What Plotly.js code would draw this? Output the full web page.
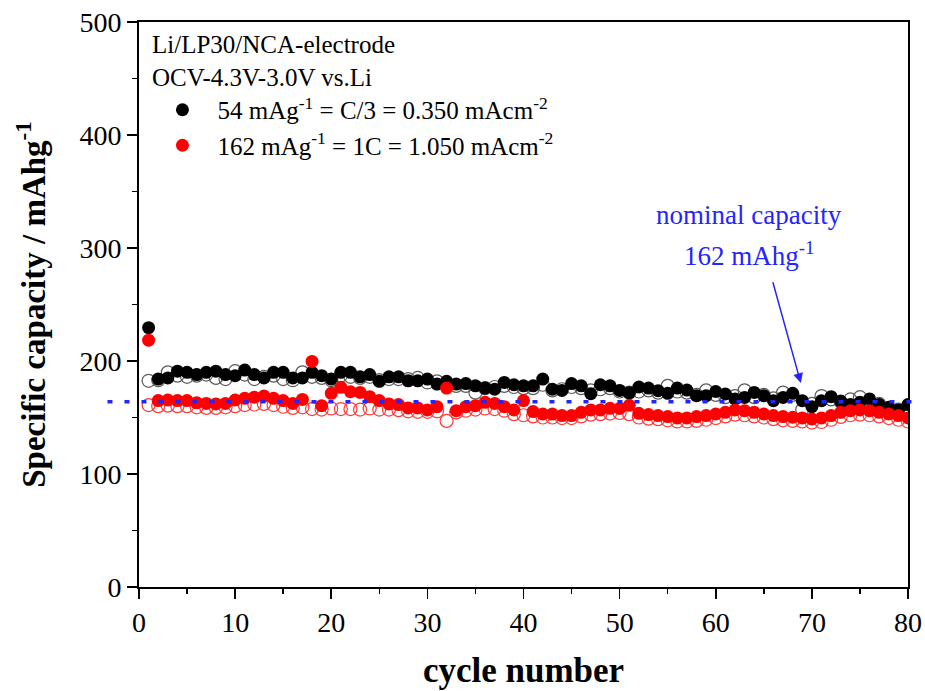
<!DOCTYPE html>
<html>
<head>
<meta charset="utf-8">
<script src="https://cdn.plot.ly/plotly-3.0.1.min.js"></script>
<style>html,body{margin:0;padding:0;background:#fff;}#chart{width:925px;height:691px;}</style>
</head>
<body>
<div id="chart"></div>
<script>
// cycle numbers 1..80
const cycles = [1,2,3,4,5,6,7,8,9,10,11,12,13,14,15,16,17,18,19,20,21,22,23,24,25,26,27,28,29,30,31,32,33,34,35,36,37,38,39,40,41,42,43,44,45,46,47,48,49,50,51,52,53,54,55,56,57,58,59,60,61,62,63,64,65,66,67,68,69,70,71,72,73,74,75,76,77,78,79,80];

// 54 mAg-1 (C/3) - filled
const blackFilled = [229.5,184,185,191,190,188,190,191,188,187,
  192,188,185,190,190,185,185,190,187,184,
  190,190,186,188,182,186,186,182.5,182.5,184,
  179.6,182,179.6,180,178,176,175,181,179,178,
  178,184,175,174,180,178,171,179,178,174,
  172,177,176,173.7,171.4,176,174.3,169.3,169.3,173,
  170.8,166.4,167.8,172.2,169.3,164.9,167.8,171.4,164.9,159.6,
  164.9,168.4,164.3,161.4,163.4,166.4,161.4,159,156.7,161.4];

// 54 mAg-1 (C/3) - open
const blackOpen = [182.5,183,190,187,186,187,188,185,184,191,
  188,184,186,187,184,183,190,186,185,183,
  187,186,185,186,183,184,184,184,185,181,
  182,180,178,178,172,176,177,178,177,176,
  176,179,174,175,177,176,174,175,176,173,
  172,173,174,172,178,173,172,170,174,170,
  168,169,174,168,170,167,172,170,157,162,
  169,166,164,166,168,163,162,158,157,158];

// 162 mAg-1 (1C) - filled
const redFilled = [218.4,165,165.5,165,165,163,162.5,162,162.5,165.5,
  167,168,169,167,165,162.5,166,199.6,160.5,171.4,
  176.7,172.8,172.2,168.4,165,162,161.4,158.5,158.5,156.7,
  159.6,176,156,159.6,160.5,163.4,162.5,159.6,156.7,165,
  155.2,153.1,153,151.7,151.7,154.6,156.7,156.7,158.1,158,
  160.8,153.7,152.6,151.7,150.8,149.6,149.6,150.8,151.7,153.1,
  154.6,156.7,156,154.6,153.1,151.7,150.8,150.2,149.6,148.7,
  149.6,151.7,154.6,156,156.7,156,154.6,153.1,151.7,149.6];

// 162 mAg-1 (1C) - open
const redOpen = [161,160,160.5,160,160,159,158.5,158.5,159,160,
  161,161.5,162,161,159.5,158.5,159,157.5,157,158,
  157.5,157.5,157,158,157,157,156.5,155.5,155,155,
  155.5,147,154.5,156,157,158,157.5,156,153,152,
  151,150,150,149.5,149.5,151,152.5,153,153.5,154,
  153,150,149,148.5,147.5,146.5,146.5,147,148,149.5,
  151,152.5,152,151,150,148.5,147.5,147,146.5,145.5,
  146,148,150.5,152,152.5,152,151,149.5,148,146.5];

const nominalLineY = 164;   // blue dotted reference line (as drawn)
const seriesNames = ['54 mAg<sup>-1</sup> = C/3 = 0.350 mAcm<sup>-2</sup>',
                     '162 mAg<sup>-1</sup> = 1C = 1.050 mAcm<sup>-2</sup>'];
const headerText = 'Li/LP30/NCA-electrode<br>OCV-4.3V-3.0V vs.Li';

const FONT = 'Liberation Serif, Times New Roman, serif';
const BLUE = '#2424ff';

const traces = [
  {x: cycles, y: blackOpen, mode: 'markers', type: 'scatter', showlegend: false,
   marker: {symbol: 'circle-open', size: 13, color: '#5a5a5a', line: {width: 1.2, color: '#5a5a5a'}}},
  {x: cycles, y: blackFilled, mode: 'markers', type: 'scatter', name: seriesNames[0],
   marker: {symbol: 'circle', size: 13, color: '#000000'}},
  {x: cycles, y: redOpen, mode: 'markers', type: 'scatter', showlegend: false,
   marker: {symbol: 'circle-open', size: 13, color: '#ff3a3a', line: {width: 1.2, color: '#ff3a3a'}}},
  {x: cycles, y: redFilled, mode: 'markers', type: 'scatter', name: seriesNames[1],
   marker: {symbol: 'circle', size: 13, color: '#ff0000'}}
];

const axisCommon = {
  showline: true, linewidth: 1.8, linecolor: '#000', mirror: true,
  ticks: 'outside', ticklen: 10, tickwidth: 1.6, tickcolor: '#000',
  showgrid: false, zeroline: false,
  tickfont: {family: FONT, size: 28, color: '#000'}
};

const layout = {
  width: 925, height: 691,
  margin: {l: 139, r: 17, t: 22, b: 104},
  paper_bgcolor: '#fff', plot_bgcolor: '#fff',
  font: {family: FONT, color: '#000'},
  xaxis: Object.assign({}, axisCommon, {
    range: [0, 80], tick0: 0, dtick: 10,
    minor: {dtick: 5, ticklen: 5, tickwidth: 1.6, tickcolor: '#000', ticks: 'outside', showgrid: false},
    title: {text: 'cycle number', font: {family: FONT, size: 35, weight: 'bold', color: '#000'}, standoff: 20}
  }),
  yaxis: Object.assign({}, axisCommon, {
    range: [0, 500], tick0: 0, dtick: 100,
    minor: {dtick: 50, ticklen: 5, tickwidth: 1.6, tickcolor: '#000', ticks: 'outside', showgrid: false},
    title: {text: 'Specific capacity / mAhg<sup>-1</sup>', font: {family: FONT, size: 33, weight: 'bold', color: '#000'}, standoff: 24}
  }),
  showlegend: true,
  legend: {
    x: 0.011, y: 0.885, xanchor: 'left', yanchor: 'top',
    bgcolor: 'rgba(0,0,0,0)', borderwidth: 0,
    itemwidth: 60, tracegroupgap: 0,
    font: {family: FONT, size: 25, color: '#000'}
  },
  shapes: [
    {type: 'line', xref: 'paper', yref: 'y', x0: -0.041, x1: 1.013, y0: nominalLineY, y1: nominalLineY,
     layer: 'above', line: {color: BLUE, width: 3.5, dash: '5px,12px'}}
  ],
  annotations: [
    {xref: 'paper', yref: 'paper', x: 0.014, y: 0.988, xanchor: 'left', yanchor: 'top', align: 'left',
     showarrow: false, text: headerText, font: {family: FONT, size: 25, color: '#000'}},
    {xref: 'x', yref: 'y', x: 63.5, y: 329, showarrow: false, text: 'nominal capacity',
     font: {family: FONT, size: 27, color: BLUE}},
    {xref: 'x', yref: 'y', x: 63.5, y: 295, showarrow: false, text: '162 mAhg<sup>-1</sup>',
     font: {family: FONT, size: 27, color: BLUE}},
    {xref: 'x', yref: 'y', x: 68.85, y: 180.5, axref: 'x', ayref: 'y', ax: 65.9, ay: 271,
     text: '', showarrow: true, arrowhead: 2, arrowsize: 1.3, arrowwidth: 1.5, arrowcolor: BLUE}
  ]
};

Plotly.newPlot('chart', traces, layout, {displayModeBar: false, staticPlot: true});
</script>
</body>
</html>
